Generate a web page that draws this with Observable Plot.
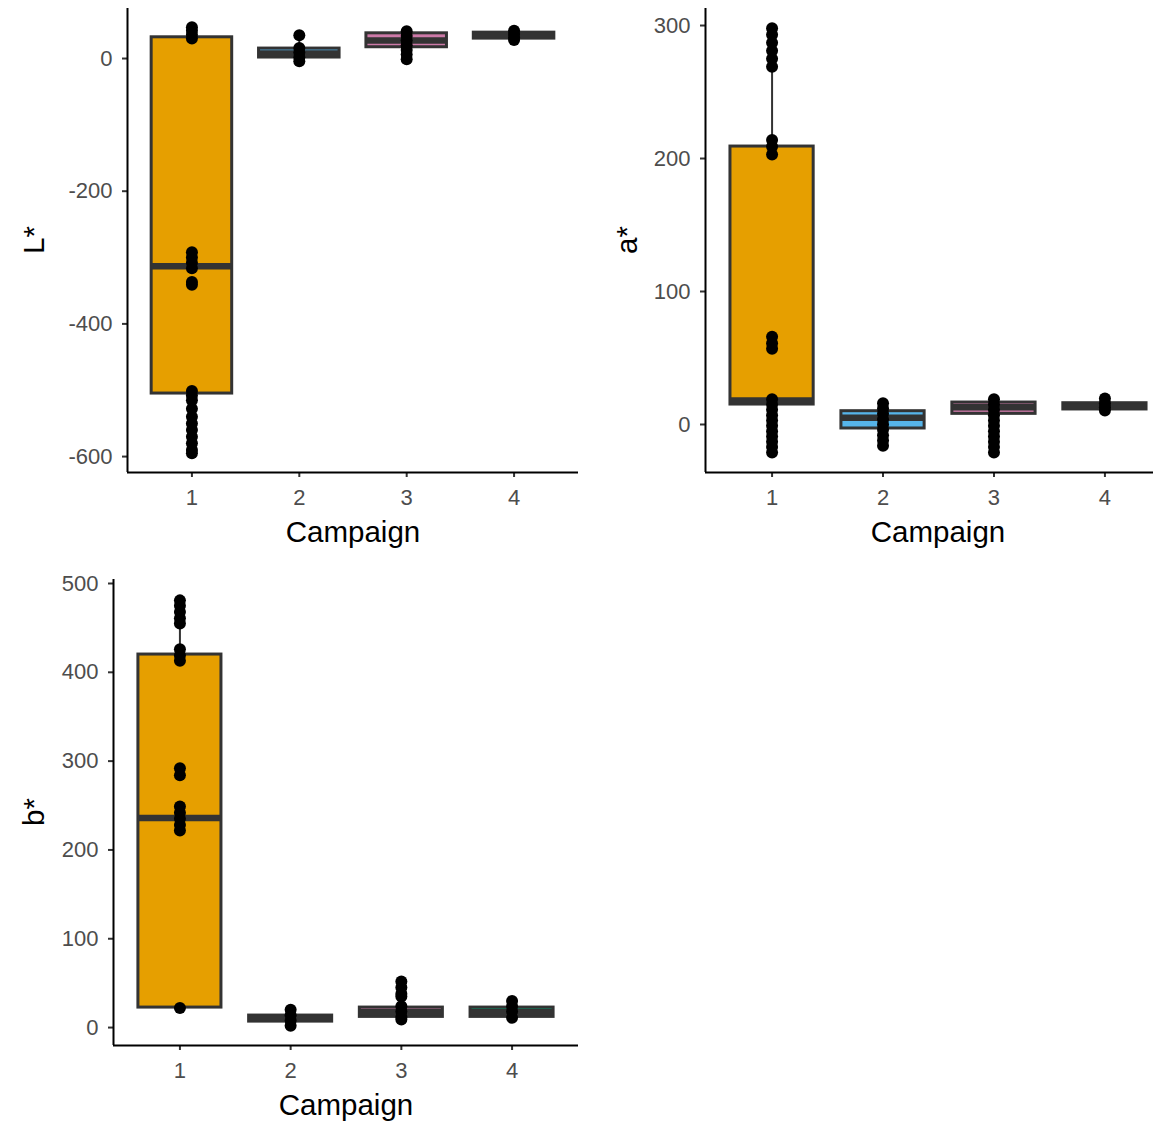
<!DOCTYPE html>
<html><head><meta charset="utf-8">
<script src="https://cdn.jsdelivr.net/npm/d3@7"></script>
<script src="https://cdn.jsdelivr.net/npm/@observablehq/plot@0.6"></script>
<style>
html,body{margin:0;padding:0;background:#fff;overflow:hidden;width:1153px;height:1124px}
#wrap{position:relative;width:1153px;height:1124px;overflow:hidden;font-family:"Liberation Sans",Arial,sans-serif}
.panel{position:absolute}
#titles{position:absolute;left:0;top:0}
</style>
</head><body><div id="wrap"></div>
<script>
// ---- data ----
const campaigns = [1, 2, 3, 4];
const campaignFills = ["#E69F00", "#56B4E9", "#CC79A7", "#009E73"];

// L*
const L_ticks = [0, -200, -400, -600];
const L_q1  = [-505, 1.5, 17, 30];
const L_med = [-313, 7.5, 27, 34.5];
const L_q3  = [32, 15, 38, 39];
const L_lo  = [-595, -4, -1, 28];
const L_hi  = [47, 35, 41, 42];
const L_points = [
  [30, 36, 42, 47, -292, -300, -308, -316, -337, -341, -501, -508, -515, -528, -540, -550, -560, -570, -580, -590, -595],
  [35, 16, 9, 2, -4],
  [41, 34, 27, 20, 13, 6, -1],
  [42, 37, 32, 28]
];

// a*
const A_ticks = [0, 100, 200, 300];
const A_q1  = [15, -3, 8, 11.3];
const A_med = [18, 5, 13, 13.6];
const A_q3  = [209, 10, 16.5, 16];
const A_lo  = [-21, -16, -21, 10.5];
const A_hi  = [298, 16, 19, 19.5];
const A_points = [
  [298, 293, 287, 281, 275, 269, 214, 209, 203, 66, 61, 57, 19, 15, 11, 7, 3, -1, -5, -9, -13, -17, -21],
  [16, 12, 8, 4, 0, -4, -8, -12, -16],
  [19, 15, 11, 7, 3, -1, -5, -9, -13, -17, -21],
  [19.5, 16, 13, 10.5]
];

// b*
const B_ticks = [0, 100, 200, 300, 400, 500];
const B_q1  = [22.5, 6.7, 12, 12];
const B_med = [236, 10.1, 17.25, 17.25];
const B_q3  = [420, 13.5, 22.5, 22.5];
const B_lo  = [22, 2, 9, 11];
const B_hi  = [481, 20, 38, 30];
const B_points = [
  [481, 475, 468, 461, 455, 426, 419, 413, 292, 284, 249, 242, 235, 228, 222, 22],
  [20, 14, 8, 2],
  [52, 45, 38, 35, 24, 18, 12, 9],
  [30, 24, 18, 11]
];

// ---- build ----
const FONT = '"Liberation Sans", Arial, sans-serif';
const wrap = document.getElementById("wrap");

function panel(cfg) {
  const boxes = campaigns.map((c, i) => ({
    c, q1: cfg.q1[i], med: cfg.med[i], q3: cfg.q3[i], lo: cfg.lo[i], hi: cfg.hi[i], fill: campaignFills[i]
  }));
  const pts = campaigns.flatMap((c, i) => cfg.points[i].map(v => ({c, v})));
  const xdom = [0.4, 4.6];
  const half = 0.375;
  const chart = Plot.plot({
    width: cfg.width, height: cfg.height,
    marginLeft: cfg.ml, marginRight: cfg.mr, marginTop: cfg.mt, marginBottom: cfg.mb,
    style: {fontFamily: FONT, background: "transparent", overflow: "visible"},
    x: {type: "linear", domain: xdom},
    y: {domain: cfg.ydomain},
    color: {type: "identity"},
    marks: [
      Plot.ruleX(boxes, {x: "c", y1: "lo", y2: "hi", stroke: "#333333", strokeWidth: 2}),
      Plot.rect(boxes, {x1: d => d.c - half, x2: d => d.c + half, y1: "q1", y2: "q3", fill: "fill", stroke: "#333333", strokeWidth: 3}),
      Plot.ruleY(boxes, {y: "med", x1: d => d.c - half, x2: d => d.c + half, stroke: "#333333", strokeWidth: 6.5}),
      Plot.dot(pts, {x: "c", y: "v", r: 6, fill: "black", stroke: "none"}),
      Plot.axisY({ticks: cfg.ticks, tickSize: 5, tickPadding: 10, fontSize: 22, fill: "#4D4D4D", stroke: "#333333", strokeWidth: 2, label: null, tickFormat: d => String(d)}),
      Plot.axisX({ticks: campaigns, tickSize: 5, tickPadding: 12, fontSize: 22, fill: "#4D4D4D", stroke: "#333333", strokeWidth: 2, label: null, tickFormat: d => String(d)}),
      Plot.ruleX([xdom[0]], {stroke: "black", strokeWidth: 2}),
      Plot.ruleY([cfg.ydomain[0]], {stroke: "black", strokeWidth: 2})
    ]
  });
  chart.classList.add("panel");
  chart.style.left = cfg.left + "px";
  chart.style.top = cfg.top + "px";
  wrap.appendChild(chart);
}

panel({left: 0, top: 0, width: 590, height: 560, ml: 127, mr: 12, mt: 8, mb: 88,
  ydomain: [-624, 75.4], ticks: L_ticks, q1: L_q1, med: L_med, q3: L_q3, lo: L_lo, hi: L_hi, points: L_points});
panel({left: 590, top: 0, width: 581, height: 560, ml: 115, mr: 0, mt: 8, mb: 88,
  ydomain: [-36.1, 312.8], ticks: A_ticks, q1: A_q1, med: A_med, q3: A_q3, lo: A_lo, hi: A_hi, points: A_points});
panel({left: 0, top: 560, width: 590, height: 564, ml: 113, mr: 12, mt: 19, mb: 79,
  ydomain: [-20.2, 504.5], ticks: B_ticks, q1: B_q1, med: B_med, q3: B_q3, lo: B_lo, hi: B_hi, points: B_points});

// axis titles
const titles = [
  {t: "Campaign", x: 353, y: 542, r: 0},
  {t: "Campaign", x: 938, y: 542, r: 0},
  {t: "Campaign", x: 346, y: 1115, r: 0},
  {t: "L*", x: 44, y: 240, r: -90},
  {t: "a*", x: 637, y: 240, r: -90},
  {t: "b*", x: 44, y: 812, r: -90}
];
const svg = d3.select(wrap).append("svg").attr("id", "titles").attr("width", 1153).attr("height", 1124)
  .style("font-family", FONT);
svg.selectAll("text").data(titles).join("text")
  .attr("transform", d => `translate(${d.x},${d.y}) rotate(${d.r})`)
  .attr("text-anchor", "middle")
  .attr("font-size", 29.5)
  .attr("fill", "black")
  .text(d => d.t);
</script>
</body></html>
